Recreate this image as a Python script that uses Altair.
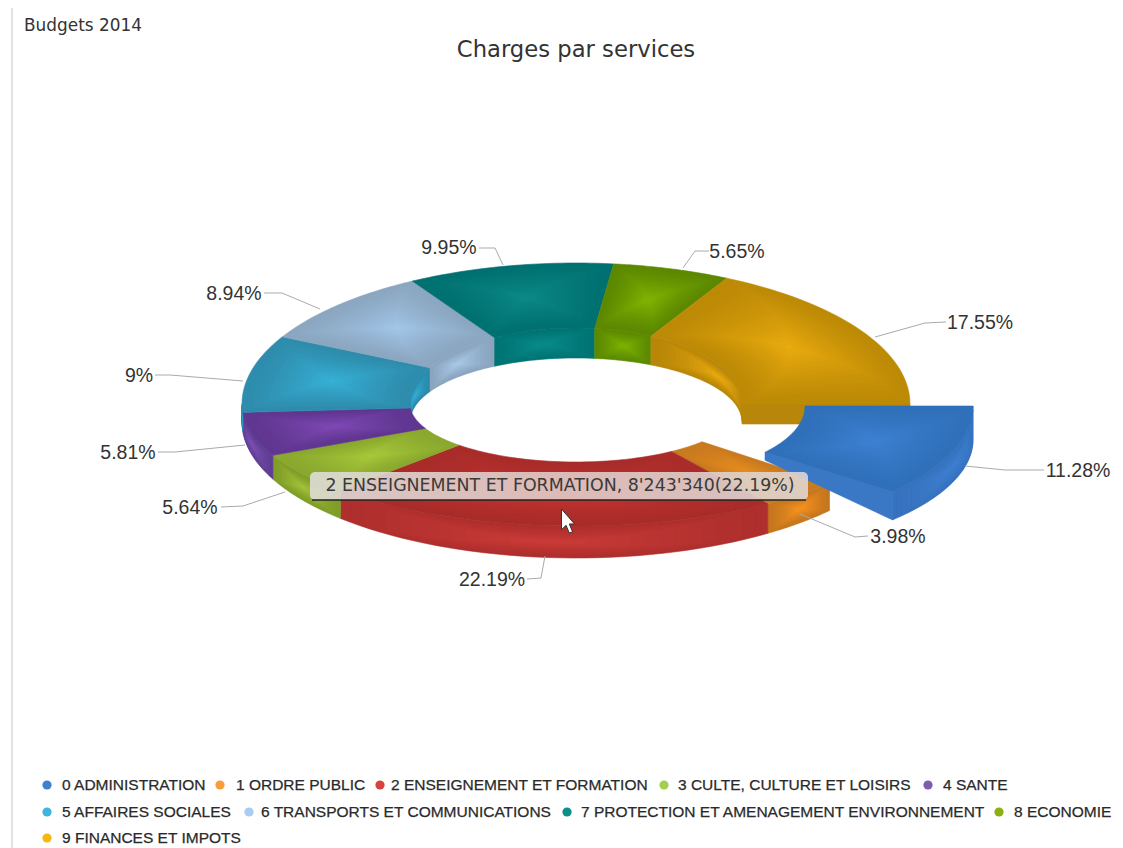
import math
import altair as alt

# ---- data ----
names = ["0 ADMINISTRATION", "1 ORDRE PUBLIC", "2 ENSEIGNEMENT ET FORMATION",
         "3 CULTE, CULTURE ET LOISIRS", "4 SANTE", "5 AFFAIRES SOCIALES",
         "6 TRANSPORTS ET COMMUNICATIONS", "7 PROTECTION ET AMENAGEMENT ENVIRONNEMENT",
         "8 ECONOMIE", "9 FINANCES ET IMPOTS"]
shares = [11.28, 3.98, 22.19, 5.64, 5.81, 9.0, 8.94, 9.95, 5.65, 17.55]
share_labels = ["11.28%", "3.98%", "22.19%", "5.64%", "5.81%", "9%", "8.94%", "9.95%", "5.65%", "17.55%"]
legend_colors = ["#3f81cc", "#f89c3c", "#d8433f", "#a3cf4e", "#7f5cb0", "#3fb6dc", "#a8cdf0", "#0a9088", "#8cb010", "#f4b810"]
top_light = ["#3d80d2", "#e68c1e", "#c5332f", "#a8c83a", "#8048b4", "#36b0d6", "#a2c6e8", "#0b8a88", "#80b400", "#e8aa0e"]
top_dark = ["#3070ba", "#c87a20", "#a82c2a", "#8aa82e", "#5f3690", "#2e8cac", "#8ba6c0", "#007070", "#5c8800", "#bd8a06"]
wall_light = ["#3f7fd0", "#f8941e", "#ca3b38", "#a2c238", "#7e50b4", "#34b0d4", "#a8cae8", "#0a8c8c", "#80b400", "#e8aa0e"]
wall_dark = ["#3672bf", "#c4761e", "#ae2f2d", "#7f9c28", "#5f3f94", "#2a8aac", "#8aa4be", "#007474", "#5c8a00", "#b88608"]

title_text = "Charges par services"
corner_text = "Budgets 2014"
tooltip_text = "2 ENSEIGNEMENT ET FORMATION, 8'243'340(22.19%)"

# label anchors and leader polylines, page pixels
label_x = [1078, 898, 492, 190, 128, 139, 234, 449, 737, 980]
label_y = [471, 537, 580, 508, 453, 376, 294, 248, 252, 323]
lead_x = [[965, 1005, 1044], [800, 855, 868], [545, 541, 527], [285, 243, 221], [245, 175, 158],
          [243, 170, 155], [320, 282, 264], [503, 495, 479], [683, 695, 709], [875, 925, 946]]
lead_y = [[466, 470, 470], [514, 537, 536], [556, 578, 579], [492, 506, 507], [445, 452, 452],
          [381, 375, 375], [309, 293, 293], [265, 248, 248], [268, 251, 251], [337, 323, 322]]
legend_dot_x = [47, 220, 380, 664, 928, 47, 249, 567, 999, 47]
legend_text_x = [62, 236, 391, 678, 943, 62, 261, 581, 1014, 62]
legend_row_y = [785, 785, 785, 785, 785, 812, 812, 812, 812, 838]

OFF = 8  # page margin
CX, CY = 576, 404
W, H = 1107, 840


def hex2rgb(c):
    return [int(c[i:i + 2], 16) for i in (1, 3, 5)]


def mix(a, b, t):
    ra, rb = hex2rgb(a), hex2rgb(b)
    return "#%02x%02x%02x" % tuple(round(x + (y - x) * t) for x, y in zip(ra, rb))


def pos(u, th):
    rx = 166 + 168 * u
    s = math.sin(th)
    ry = (58 + 64 * u) if s >= 0 else (76 + 65 * u)
    return CX + rx * math.cos(th), CY + ry * s


def inner_h(th):
    return 18 + 12 * abs(math.sin(th))


def outer_h(th):
    return 18 + 14 * abs(math.sin(th))


def pos_blue(u, th):
    return 639 + (166 + 168 * u) * math.cos(th), 406 + (71 + 61 * u) * math.sin(th)


def feature(points, color):
    pts = [[x - OFF, y - OFF] for x, y in points]
    pts.append(pts[0])
    return {"type": "Feature", "properties": {"fill": color},
            "geometry": {"type": "Polygon", "coordinates": [pts]}}


STEPS = 16
ARC = 36


def surface(fn, t0, t1, dark, light):
    """nested wedges, darker at the rim and lighter at the centre"""
    out = []
    mid = (t0 + t1) / 2
    for k in range(STEPS):
        t = k / (STEPS - 1)
        shrink = t * 0.96
        a0 = t0 + (mid - t0) * shrink
        a1 = t1 - (t1 - mid) * shrink
        u0, u1 = 0.5 * shrink, 1 - 0.5 * shrink
        n = ARC
        pts = [fn(u1, a0 + (a1 - a0) * i / n) for i in range(n + 1)]
        pts += [fn(u0, a1 - (a1 - a0) * i / n) for i in range(n + 1)]
        out.append(feature(pts, mix(dark, light, t ** 1.3)))
    return out


def wall(fn, hfn, t0, t1, dark, light):
    out = []
    mid = (t0 + t1) / 2
    for k in range(STEPS):
        t = k / (STEPS - 1)
        shrink = t * 0.96
        a0 = t0 + (mid - t0) * shrink
        a1 = t1 - (t1 - mid) * shrink
        v0, v1 = 0.5 * shrink, 1 - 0.5 * shrink
        n = ARC
        pts = []
        for i in range(n + 1):
            a = a0 + (a1 - a0) * i / n
            x, y = fn(a)
            pts.append((x, y + hfn(a) * v0))
        for i in range(n + 1):
            a = a1 - (a1 - a0) * i / n
            x, y = fn(a)
            pts.append((x, y + hfn(a) * v1))
        out.append(feature(pts, mix(dark, light, t ** 1.3)))
    return out


edges = [0.0]
for s in shares:
    edges.append(edges[-1] + s / sum(shares) * 2 * math.pi)

features = []
PI = math.pi
# back inner walls
for i in range(1, 10):
    a0, a1 = max(edges[i], PI), max(edges[i + 1], PI)
    if a1 > a0:
        features += wall(lambda a: pos(0, a), inner_h, a0, a1, wall_dark[i], wall_light[i])
# cut face of the last slice, where the exploded slice was removed
pts = [pos(0, 2 * PI), pos(1, 2 * PI), (pos(1, 2 * PI)[0], CY + 20), (pos(0, 2 * PI)[0], CY + 20)]
features.append(feature(pts, wall_dark[9]))
# front outer walls
for i in range(1, 10):
    a0, a1 = min(edges[i], PI), min(edges[i + 1], PI)
    if a1 > a0:
        features += wall(lambda a: pos(1, a), outer_h, a0, a1, wall_dark[i], wall_light[i])
# top surfaces
for i in range(1, 10):
    features += surface(pos, edges[i], edges[i + 1], top_dark[i], top_light[i])
# exploded slice
span = edges[1]
features.append(feature([pos_blue(0, span), pos_blue(1, span),
                         (pos_blue(1, span)[0], pos_blue(1, span)[1] + 28),
                         (pos_blue(0, span)[0], pos_blue(0, span)[1] + 8)], "#3a78c6"))
features += wall(lambda a: pos_blue(1, a), lambda a: 34 - 6 * a / span, 0, span, wall_dark[0], wall_light[0])
features += surface(pos_blue, 0, span, top_dark[0], top_light[0])

ring = alt.Chart(alt.Data(values=features)).mark_geoshape(strokeWidth=0.6).encode(
    color=alt.Color("properties.fill:N", scale=None, legend=None),
    stroke=alt.Stroke("properties.fill:N", scale=None, legend=None),
).project(type="identity", scale=1, translate=[0, 0])

PX = alt.Scale(domain=[0, W], range=[0, W])
PY = alt.Scale(domain=[0, H], range=[0, H])


def X(f="x"):
    return alt.X(f"{f}:Q", scale=PX, axis=None)


def Y(f="y"):
    return alt.Y(f"{f}:Q", scale=PY, axis=None)


frame = alt.Chart(alt.Data(values=[{"x": 12 - OFF, "y": 0, "y2": H}])).mark_rule(color="#c4c4c4", strokeWidth=1).encode(
    x=X(), y=Y(), y2="y2:Q")

lead_rows = []
for i in range(10):
    for k, (lx, ly) in enumerate(zip(lead_x[i], lead_y[i])):
        lead_rows.append({"s": i, "k": k, "x": lx - OFF, "y": ly - OFF})
leads = alt.Chart(alt.Data(values=lead_rows)).mark_line(color="#aaaaaa", strokeWidth=1).encode(
    x=X(), y=Y(), detail="s:N", order="k:Q")

labels = alt.Chart(alt.Data(values=[
    {"x": label_x[i] - OFF, "y": label_y[i] - OFF, "t": share_labels[i]} for i in range(10)
])).mark_text(font="Liberation Sans", fontSize=19.5, color="#333333", align="center", baseline="middle").encode(
    x=X(), y=Y(), text="t:N")

title = alt.Chart(alt.Data(values=[{"x": 576 - OFF, "y": 50 - OFF, "t": title_text}])).mark_text(
    font="DejaVu Sans", fontSize=22.7, color="#333333", align="center", baseline="middle").encode(x=X(), y=Y(), text="t:N")
corner = alt.Chart(alt.Data(values=[{"x": 24 - OFF, "y": 26 - OFF, "t": corner_text}])).mark_text(
    font="DejaVu Sans", fontSize=16.9, color="#333333", align="left", baseline="middle").encode(x=X(), y=Y(), text="t:N")

dots = alt.Chart(alt.Data(values=[
    {"x": legend_dot_x[i] - OFF, "y": legend_row_y[i] - OFF, "c": legend_colors[i]} for i in range(10)
])).mark_point(filled=True, opacity=1, shape="circle", size=85).encode(
    x=X(), y=Y(), color=alt.Color("c:N", scale=None, legend=None))
legend_text = alt.Chart(alt.Data(values=[
    {"x": legend_text_x[i] - OFF, "y": legend_row_y[i] - OFF, "t": names[i]} for i in range(10)
])).mark_text(font="Liberation Sans", fontSize=15.5, color="#2a2a2a", align="left", baseline="middle",
              stroke="#2a2a2a", strokeWidth=0.25).encode(x=X(), y=Y(), text="t:N")

tip_box = alt.Chart(alt.Data(values=[{"x": 310 - OFF, "x2": 808 - OFF, "y": 472 - OFF, "y2": 500 - OFF}])).mark_rect(
    cornerRadius=5, opacity=0.88,
    color=alt.LinearGradient(gradient="linear", x1=0, x2=1, y1=0, y2=0,
                             stops=[alt.GradientStop(offset=0, color="#e0deda"),
                                    alt.GradientStop(offset=0.5, color="#e2cdc9"),
                                    alt.GradientStop(offset=1, color="#dfd8d4")])
).encode(x=X(), x2="x2:Q", y=Y(), y2="y2:Q")
tip_edge = alt.Chart(alt.Data(values=[{"x": 312 - OFF, "x2": 806 - OFF, "y": 500 - OFF}])).mark_rule(
    color="#222222", strokeWidth=1.5).encode(x=X(), x2="x2:Q", y=Y())
tip_text = alt.Chart(alt.Data(values=[{"x": 560 - OFF, "y": 486 - OFF, "t": tooltip_text}])).mark_text(
    font="DejaVu Sans", fontSize=17.4, color="#3a3a3a", align="center", baseline="middle").encode(x=X(), y=Y(), text="t:N")
cursor = alt.Chart(alt.Data(values=[{"x": 568 - OFF, "y": 522 - OFF}])).mark_point(
    shape="M-0.5,-1 L-0.5,0.6 L-0.15,0.25 L0.1,0.85 L0.35,0.75 L0.1,0.15 L0.5,0.15 Z",
    filled=True, fill="#ffffff", stroke="#333333", strokeWidth=1, opacity=1, size=680
).encode(x=X(), y=Y())

chart = alt.layer(
    frame, ring, leads, labels, title, corner, dots, legend_text, tip_box, tip_edge, tip_text, cursor
).properties(width=W, height=H, padding=0, background="#ffffff",
             autosize=alt.AutoSizeParams(type="none")).configure_view(stroke=None)

chart.save("out.html", embed_options={"renderer": "svg", "actions": False})
